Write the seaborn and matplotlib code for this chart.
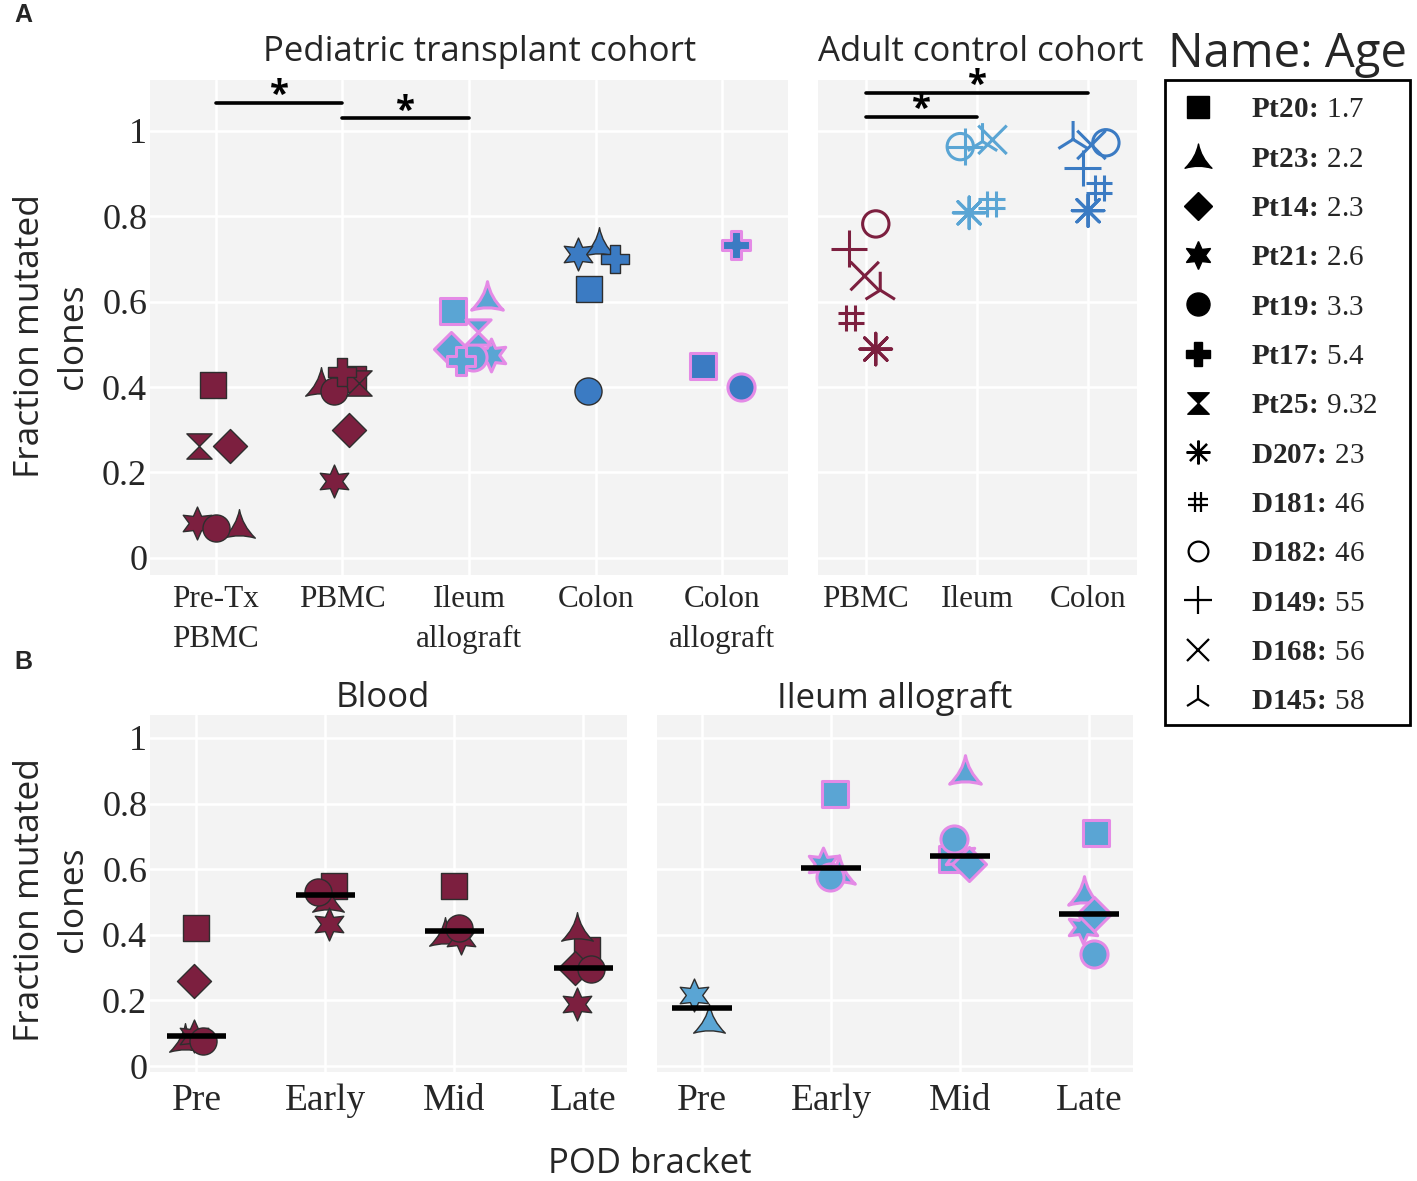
import numpy as np
import pandas as pd
import matplotlib
matplotlib.use("Agg")
import matplotlib.pyplot as plt
import seaborn as sns
from matplotlib.path import Path
from matplotlib.markers import MarkerStyle
from matplotlib.lines import Line2D
from matplotlib.patches import Rectangle

# ---------------- data ----------------
ped_patients = ["Pt20", "Pt23", "Pt14", "Pt21", "Pt19", "Pt17", "Pt25"]
ped_ages = ["1.7", "2.2", "2.3", "2.6", "3.3", "5.4", "9.32"]
adult_patients = ["D207", "D181", "D182", "D149", "D168", "D145"]
adult_ages = ["23", "46", "46", "55", "56", "58"]

a_ped_cats = ["Pre-Tx\nPBMC", "PBMC", "Ileum\nallograft", "Colon", "Colon\nallograft"]
a_adult_cats = ["PBMC", "Ileum", "Colon"]
b_cats = ["Pre", "Early", "Mid", "Late"]

# Panel A, pediatric cohort (order = ped_patients, None = no sample)
a_pre_tx     = [0.406, 0.078, 0.261, 0.082, 0.071, None, 0.263]
a_pbmc       = [0.420, 0.410, 0.300, 0.180, 0.390, 0.435, 0.410]
a_ileum_allo = [0.578, 0.610, 0.490, 0.475, 0.470, 0.460, 0.530]
a_colon      = [0.630, 0.738, None, 0.712, 0.390, 0.700, None]
a_colon_allo = [0.450, None, None, None, 0.400, 0.733, None]
# horizontal jitter
a_pre_tx_dx     = [-0.02, 0.18, 0.11, -0.15, 0.0, None, -0.13]
a_pbmc_dx       = [0.08, -0.17, 0.05, -0.07, -0.07, 0.0, 0.13]
a_ileum_allo_dx = [-0.13, 0.14, -0.145, 0.17, 0.03, -0.06, 0.07]
a_colon_dx      = [-0.05, 0.03, None, -0.14, -0.06, 0.15, None]
a_colon_allo_dx = [-0.15, None, None, None, 0.15, 0.11, None]

# Panel A, adult control cohort (order = adult_patients)
c_pbmc  = [0.489, 0.562, 0.782, 0.724, 0.660, 0.627]
c_ileum = [0.808, 0.829, 0.963, 0.963, 0.979, 0.975]
c_colon = [0.813, 0.866, 0.972, 0.913, 0.967, 0.980]
c_pbmc_dx  = [0.09, -0.135, 0.09, -0.15, -0.01, 0.13]
c_ileum_dx = [-0.07, 0.13, -0.15, -0.11, 0.14, 0.05]
c_colon_dx = [0.0, 0.10, 0.16, -0.05, 0.03, -0.135]

# significance brackets (from category, to category, height)
a_sig_from = [0, 1]
a_sig_to = [1, 2]
a_sig_y = [1.066, 1.030]
c_sig_from = [0, 0]
c_sig_to = [2, 1]
c_sig_y = [1.089, 1.033]

# Panel B, blood (order = ped_patients)
b_blood_pre   = [0.422, 0.083, 0.258, 0.092, 0.078, None, None]
b_blood_early = [0.548, 0.510, None, 0.432, 0.530, None, None]
b_blood_mid   = [0.548, 0.405, None, 0.390, 0.420, None, None]
b_blood_late  = [0.355, 0.420, 0.300, 0.190, 0.295, None, None]
b_blood_pre_dx   = [0.0, -0.09, -0.02, -0.02, 0.05, None, None]
b_blood_early_dx = [0.07, 0.02, None, 0.03, -0.06, None, None]
b_blood_mid_dx   = [0.0, -0.07, None, 0.05, 0.04, None, None]
b_blood_late_dx  = [0.03, -0.05, -0.06, -0.05, 0.06, None, None]

# Panel B, ileum allograft
b_ileum_pre   = [None, 0.140, None, 0.216, None, None, None]
b_ileum_early = [0.828, 0.595, None, 0.615, 0.575, None, None]
b_ileum_mid   = [0.630, 0.900, 0.615, 0.640, 0.693, None, None]
b_ileum_late  = [0.710, 0.530, 0.465, 0.424, 0.343, None, None]
b_ileum_pre_dx   = [None, 0.05, None, -0.06, None, None, None]
b_ileum_early_dx = [0.03, 0.06, None, -0.06, -0.01, None, None]
b_ileum_mid_dx   = [-0.06, 0.04, 0.07, 0.0, -0.05, None, None]
b_ileum_late_dx  = [0.05, -0.04, 0.04, -0.05, 0.035, None, None]


def long_table(patients, groups):
    rows = []
    for cat_i, (vals, dxs, style) in enumerate(groups):
        for p, v, d in zip(patients, vals, dxs):
            if v is None:
                continue
            rows.append({"patient": p, "cat": cat_i, "x": cat_i + d,
                         "value": v, "style": style})
    return pd.DataFrame(rows)


dfA = long_table(ped_patients, [
    (a_pre_tx, a_pre_tx_dx, "maroon"),
    (a_pbmc, a_pbmc_dx, "maroon"),
    (a_ileum_allo, a_ileum_allo_dx, "ileum"),
    (a_colon, a_colon_dx, "colon"),
    (a_colon_allo, a_colon_allo_dx, "colon_allo"),
])
dfC = long_table(adult_patients, [
    (c_pbmc, c_pbmc_dx, "maroon"),
    (c_ileum, c_ileum_dx, "ileum"),
    (c_colon, c_colon_dx, "colon"),
])
dfB1 = long_table(ped_patients, [
    (b_blood_pre, b_blood_pre_dx, "maroon"),
    (b_blood_early, b_blood_early_dx, "maroon"),
    (b_blood_mid, b_blood_mid_dx, "maroon"),
    (b_blood_late, b_blood_late_dx, "maroon"),
])
dfB2 = long_table(ped_patients, [
    (b_ileum_pre, b_ileum_pre_dx, "ileum_pre"),
    (b_ileum_early, b_ileum_early_dx, "ileum"),
    (b_ileum_mid, b_ileum_mid_dx, "ileum"),
    (b_ileum_late, b_ileum_late_dx, "ileum"),
])

# ---------------- styles ----------------
MAROON = "#7c1f3f"
LBLUE = "#5aa5d4"
SBLUE = "#3b7bc3"
PINK = "#e48ae6"
DARK = "#2e2e2e"
style_colors = {
    "maroon": (MAROON, DARK, 1.0),
    "ileum": (LBLUE, PINK, 2.2),
    "ileum_pre": (LBLUE, DARK, 1.0),
    "colon": (SBLUE, DARK, 1.0),
    "colon_allo": (SBLUE, PINK, 2.2),
}

concave_tri = Path(
    [(0, 1), (0.18, 0.0), (1, -0.8), (0, -0.5), (-1, -0.8), (-0.18, 0.0), (0, 1), (0, 1)],
    [Path.MOVETO, Path.CURVE3, Path.CURVE3, Path.CURVE3, Path.CURVE3,
     Path.CURVE3, Path.CURVE3, Path.CLOSEPOLY])
hourglass = Path(
    [(-1, 1), (1, 1), (0, 0), (1, -1), (-1, -1), (0, 0), (-1, 1)],
    [Path.MOVETO, Path.LINETO, Path.LINETO, Path.LINETO, Path.LINETO,
     Path.LINETO, Path.CLOSEPOLY])
hash_path = Path(
    [(-0.35, -1), (-0.35, 1), (0.35, -1), (0.35, 1),
     (-1, -0.35), (1, -0.35), (-1, 0.35), (1, 0.35)],
    [Path.MOVETO, Path.LINETO] * 4)

ped_markers = {"Pt20": "s", "Pt23": concave_tri, "Pt14": "D", "Pt21": (6, 1, 0),
               "Pt19": "o", "Pt17": "P", "Pt25": hourglass}
ped_sizes = {"Pt20": 330, "Pt23": 520, "Pt14": 300, "Pt21": 560,
             "Pt19": 380, "Pt17": 400, "Pt25": 330}
adult_markers = {"D207": (8, 2, 0), "D181": hash_path, "D182": "o", "D149": "+",
                 "D168": "x", "D145": "2"}
adult_sizes = {"D207": 520, "D181": 360, "D182": 360, "D149": 700,
               "D168": 420, "D145": 700}

# ---------------- theme ----------------
sns.set_theme(style="darkgrid", rc={
    "axes.facecolor": "#f3f3f3", "grid.color": "white", "grid.linewidth": 1.8,
    "axes.edgecolor": "none"})
plt.rcParams["font.family"] = ["Open Sans", "DejaVu Sans"]
plt.rcParams["mathtext.fontset"] = "custom"
plt.rcParams["mathtext.bf"] = "Liberation Serif:bold"
plt.rcParams["mathtext.rm"] = "Liberation Serif"

W, H = 1417, 1181
fig = plt.figure(figsize=(W / 100, H / 100), dpi=100)
fig.patch.set_facecolor("white")
axA1 = fig.add_axes([150 / W, 1 - 575 / H, 638 / W, 495 / H])
axA2 = fig.add_axes([818 / W, 1 - 575 / H, 319 / W, 495 / H])
axB1 = fig.add_axes([150 / W, 1 - 1072 / H, 477 / W, 357 / H])
axB2 = fig.add_axes([657 / W, 1 - 1072 / H, 476 / W, 357 / H])

SERIF = "Liberation Serif"


def draw_filled(ax, df):
    for (pat, sty), sub in df.groupby(["patient", "style"], sort=False):
        fc, ec, lw = style_colors[sty]
        sns.scatterplot(data=sub, x="x", y="value", ax=ax, marker=ped_markers[pat],
                        s=ped_sizes[pat], color=fc, edgecolor=ec, linewidth=lw,
                        zorder=3, legend=False)


def draw_open(ax, df):
    for (pat, sty), sub in df.groupby(["patient", "style"], sort=False):
        fc, _, _ = style_colors[sty]
        m = MarkerStyle(adult_markers[pat], fillstyle="none")
        sns.scatterplot(data=sub, x="x", y="value", ax=ax, marker=m,
                        s=adult_sizes[pat], color=fc, linewidth=2.2,
                        zorder=3, legend=False)


draw_filled(axA1, dfA)
draw_open(axA2, dfC)
draw_filled(axB1, dfB1)
draw_filled(axB2, dfB2)

# medians in panel B
for ax, df in [(axB1, dfB1), (axB2, dfB2)]:
    med = df.groupby("cat")["value"].median()
    ax.hlines(med.values, med.index - 0.23, med.index + 0.23, colors="black",
              linewidth=4.0, zorder=4)

# significance brackets
for ax, f, t, ys in [(axA1, a_sig_from, a_sig_to, a_sig_y),
                     (axA2, c_sig_from, c_sig_to, c_sig_y)]:
    for x0, x1, y in zip(f, t, ys):
        ax.plot([x0, x1], [y, y], color="black", lw=2.6, zorder=4, clip_on=False)
        ax.text((x0 + x1) / 2, y + 0.015, "*", ha="center", va="center",
                fontsize=25, fontweight="bold", color="black", zorder=5)

yt = [0, 0.2, 0.4, 0.6, 0.8, 1.0]
ytl = ["0", "0.2", "0.4", "0.6", "0.8", "1"]
for ax in (axA1, axA2):
    ax.set_ylim(-0.040, 1.119)
for ax in (axB1, axB2):
    ax.set_ylim(-0.018, 1.070)
axA1.set_xlim(-0.52, 4.52)
axA2.set_xlim(-0.43, 2.44)
axB1.set_xlim(-0.36, 3.34)
axB2.set_xlim(-0.35, 3.34)

for ax, cats, fs, pad in [(axA1, a_ped_cats, 22.5, 7), (axA2, a_adult_cats, 22.5, 7),
                          (axB1, b_cats, 27, 8), (axB2, b_cats, 27, 8)]:
    ax.set_xticks(range(len(cats)))
    ax.set_xticklabels(cats, fontfamily=SERIF, fontsize=fs, linespacing=1.5)
    ax.set_yticks(yt)
    ax.set_xlabel("")
    ax.set_ylabel("")
    ax.tick_params(axis="x", length=0, pad=pad)
    ax.tick_params(axis="y", length=0, pad=2)
    for sp in ax.spines.values():
        sp.set_visible(False)

for ax, w in ((axA1, 638), (axB1, 477)):
    ax.set_yticklabels(ytl, fontfamily=SERIF, fontsize=26)
    ax.set_ylabel("Fraction mutated\nclones", fontsize=25.5, linespacing=1.35)
    ax.yaxis.set_label_coords((90 - 150) / w, 0.483)
for ax in (axA2, axB2):
    ax.set_yticklabels([])

# titles and labels
TS = 25
fig.text(480 / W, 1 - 52 / H, "Pediatric transplant cohort", ha="center", va="center", fontsize=TS)
fig.text(981 / W, 1 - 52 / H, "Adult control cohort", ha="center", va="center", fontsize=TS)
fig.text(383 / W, 1 - 698 / H, "Blood", ha="center", va="center", fontsize=TS)
fig.text(895 / W, 1 - 698 / H, "Ileum allograft", ha="center", va="center", fontsize=TS)
fig.text(650 / W, 1 - 1164 / H, "POD bracket", ha="center", va="center", fontsize=TS)
fig.text(14 / W, 1 - 15 / H, "A", ha="left", va="center", fontsize=18, fontweight="bold",
         family=["Liberation Sans", "DejaVu Sans"])
fig.text(14 / W, 1 - 662 / H, "B", ha="left", va="center", fontsize=18, fontweight="bold",
         family=["Liberation Sans", "DejaVu Sans"])
fig.text(1288 / W, 1 - 54 / H, "Name: Age", ha="center", va="center", fontsize=34)

# legend
handles, labels = [], []
for p, a in zip(ped_patients, ped_ages):
    handles.append(Line2D([], [], ls="none", marker=ped_markers[p], color="black",
                          markersize=np.sqrt(ped_sizes[p]) * 0.85, mec="black"))
    labels.append(r"$\mathbf{" + p + r"\!:\!}$ " + a)
for p, a in zip(adult_patients, adult_ages):
    handles.append(Line2D([], [], ls="none",
                          marker=MarkerStyle(adult_markers[p], fillstyle="none"),
                          color="black", markersize=np.sqrt(adult_sizes[p]) * 0.75,
                          mew=1.6))
    labels.append(r"$\mathbf{" + p + r"\!:\!}$ " + a)
leg = fig.legend(handles, labels, loc="upper left",
                 bbox_to_anchor=(1175 / W, 1 - 97 / H), borderaxespad=0,
                 frameon=False, prop={"family": SERIF, "size": 21},
                 labelspacing=0.785, handletextpad=1.0, handlelength=1.6,
                 borderpad=0)
fig.add_artist(Rectangle((1165 / W, 1 - 725 / H), 245 / W, 645 / H,
                         transform=fig.transFigure, fill=False,
                         edgecolor="black", linewidth=2.0))

fig.savefig("out.png", dpi=100, facecolor="white")
